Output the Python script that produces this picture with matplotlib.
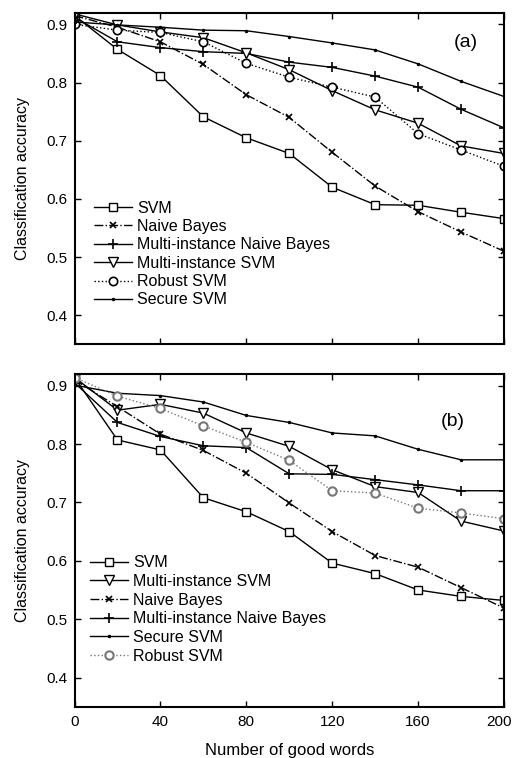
import matplotlib
matplotlib.use("Agg")
import matplotlib.pyplot as plt
from matplotlib.transforms import ScaledTranslation

plt.rcParams['font.family'] = ['Liberation Sans', 'DejaVu Sans']

x = [0, 20, 40, 60, 80, 100, 120, 140, 160, 180, 200]
xticks = [0, 40, 80, 120, 160, 200]
yticks = [0.4, 0.5, 0.6, 0.7, 0.8, 0.9]

# Panel (a)
a_svm = [0.915, 0.857, 0.812, 0.741, 0.705, 0.678, 0.620, 0.590, 0.589, 0.577, 0.566]
a_nb = [0.915, 0.895, 0.870, 0.831, 0.779, 0.740, 0.680, 0.622, 0.578, 0.543, 0.510]
a_minb = [0.912, 0.870, 0.860, 0.853, 0.850, 0.835, 0.826, 0.811, 0.792, 0.754, 0.722]
a_misvm = [0.918, 0.899, 0.887, 0.877, 0.851, 0.822, 0.786, 0.753, 0.730, 0.691, 0.678]
a_rsvm = [0.900, 0.890, 0.886, 0.870, 0.833, 0.809, 0.792, 0.775, 0.712, 0.684, 0.656]
a_ssvm = [0.904, 0.899, 0.895, 0.890, 0.889, 0.879, 0.868, 0.856, 0.832, 0.802, 0.776]

# Panel (b)
b_svm = [0.914, 0.807, 0.790, 0.708, 0.684, 0.650, 0.596, 0.578, 0.550, 0.539, 0.532]
b_misvm = [0.914, 0.858, 0.868, 0.853, 0.819, 0.796, 0.756, 0.727, 0.717, 0.668, 0.651]
b_nb = [0.910, 0.864, 0.817, 0.789, 0.750, 0.699, 0.650, 0.609, 0.589, 0.554, 0.519]
b_minb = [0.905, 0.837, 0.813, 0.797, 0.794, 0.749, 0.748, 0.739, 0.730, 0.720, 0.720]
b_ssvm = [0.901, 0.887, 0.883, 0.872, 0.849, 0.837, 0.819, 0.814, 0.791, 0.773, 0.773]
b_rsvm = [0.914, 0.882, 0.861, 0.831, 0.803, 0.772, 0.720, 0.716, 0.690, 0.682, 0.672]

W, H = 514, 758
fig = plt.figure(figsize=(W / 100, H / 100), dpi=100)

def add_ax(l, t, r, b):
    return fig.add_axes([l / W, 1 - b / H, (r - l) / W, (b - t) / H])

ax1 = add_ax(74.5, 12.7, 504, 344.3)
ax2 = add_ax(74.5, 374, 504, 706.7)

lw = 1.0
tfs = 11
lfs = 11.5

def style(ax, labels):
    ax.set_xlim(0, 200)
    ax.set_ylim(0.35, 0.92)
    ax.set_xticks(xticks)
    ax.set_yticks(yticks)
    ax.tick_params(direction='in', top=True, right=True, length=4, width=1, labelsize=tfs)
    ax.tick_params(axis='y', pad=5)
    ax.tick_params(axis='x', pad=6)
    if not labels:
        ax.set_xticklabels([])
    for s in ax.spines.values():
        s.set_linewidth(1.5)
    ax.set_ylabel('Classification accuracy', fontsize=11.5, labelpad=12)

k = dict(color='black', lw=lw)
# (a)
ax1.plot(x, a_svm, '-', marker='s', ms=5.5, mfc='white', mec='black', mew=1, label='SVM', **k)
ax1.plot(x, a_nb, '-.', marker='x', ms=4.5, mew=1.2, label='Naive Bayes', **k)
ax1.plot(x, a_minb, '-', marker='+', ms=7, mew=1.2, label='Multi-instance Naive Bayes', **k)
ax1.plot(x, a_misvm, '-', marker='v', ms=7, mfc='white', mec='black', mew=1, label='Multi-instance SVM', **k)
ax1.plot(x, a_rsvm, ':', marker='o', ms=6, mfc='white', mec='black', mew=1.2, label='Robust SVM', **k)
ax1.plot(x, a_ssvm, '-', marker='.', ms=3, label='Secure SVM', **k)
style(ax1, False)
ax1.text(182, 0.868, '(a)', fontsize=14, ha='center', va='center')
leg1 = ax1.legend(loc='upper left', bbox_to_anchor=(0.045, 0.433), frameon=False, fontsize=lfs,
                  numpoints=1, handlelength=2.4, handletextpad=0.3, labelspacing=0.21, borderpad=0, borderaxespad=0)

# (b)
g = '#777777'
ax2.plot(x, b_svm, '-', marker='s', ms=5.5, mfc='white', mec='black', mew=1, label='SVM', **k)
ax2.plot(x, b_misvm, '-', marker='v', ms=7, mfc='white', mec='black', mew=1, label='Multi-instance SVM', **k)
ax2.plot(x, b_nb, '-.', marker='x', ms=4.5, mew=1.2, label='Naive Bayes', **k)
ax2.plot(x, b_minb, '-', marker='+', ms=7, mew=1.2, label='Multi-instance Naive Bayes', **k)
ax2.plot(x, b_ssvm, '-', marker='.', ms=3, label='Secure SVM', **k)
ax2.plot(x, b_rsvm, ':', marker='o', ms=6, color=g, mfc='white', mec=g, mew=1.5, lw=1.0, label='Robust SVM')
style(ax2, True)
ax2.text(176, 0.838, '(b)', fontsize=14, ha='center', va='center')
ax2.set_xlabel('Number of good words', fontsize=12, labelpad=10)
leg2 = ax2.legend(loc='upper left', bbox_to_anchor=(0.036, 0.455), frameon=False, fontsize=lfs,
                  numpoints=1, handlelength=2.4, handletextpad=0.3, labelspacing=0.23, borderpad=0, borderaxespad=0)

fig.canvas.draw()
lab = ax2.xaxis.get_major_ticks()[-1].label1
lab.set_transform(lab.get_transform() + ScaledTranslation(-5 / 100, 0, fig.dpi_scale_trans))

fig.savefig('out.png', dpi=100)
